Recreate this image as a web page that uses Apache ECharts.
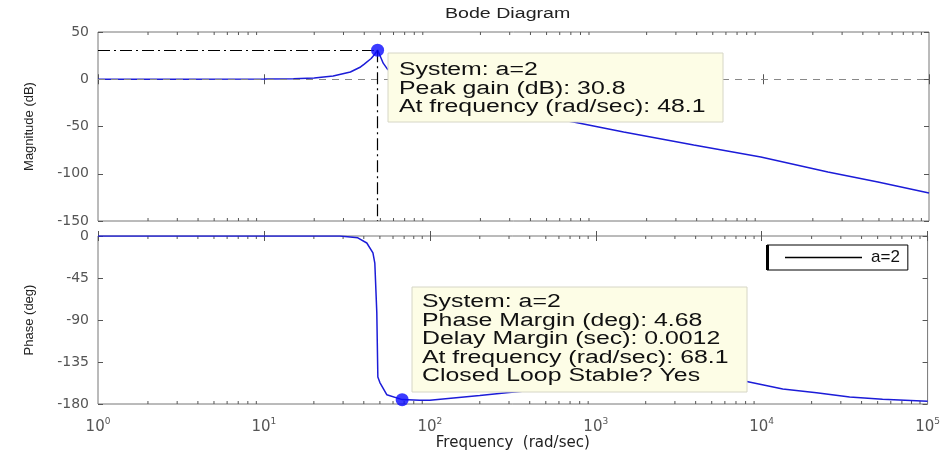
<!DOCTYPE html>
<html>
<head>
<meta charset="utf-8">
<script src="https://cdn.jsdelivr.net/npm/echarts@6/dist/echarts.min.js"></script>
<style>
  html, body { margin: 0; padding: 0; background: #fff; }
  #chart { width: 943px; height: 453px; }
</style>
</head>
<body>
<div id="chart"></div>
<script>
// magnitude curve (rad/sec -> dB)
const freqMag = [1, 3, 10, 15, 20, 26, 33, 38, 40, 44, 46.5, 48.1, 50, 52, 55, 60, 68.1, 100, 200, 400, 726, 1455, 3840, 9730, 24650, 49300, 100000]
const magDb = [0, 0, 0.3, 0.6, 1.4, 3.5, 7.7, 13, 16, 22, 27, 30.8, 24, 17, 11, 5, 0, -11, -24, -37, -45.2, -55.8, -69.6, -82.3, -98.1, -108.7, -120.4]

// phase curve (rad/sec -> deg)
const freqPhase = [1, 10, 28.7, 36.8, 41.7, 45.4, 46.6, 47.9, 48.6, 50, 55, 68.1, 87, 100, 200, 290, 500, 1000, 2000, 3500, 6000, 8128, 13400, 21400, 33900, 53500, 100000]
const phaseDeg = [0, 0, 0, -2, -7.5, -18, -29, -82, -151, -157, -170, -175.3, -176, -176, -171, -168, -164, -160, -157, -155, -155, -156, -164, -168, -172.5, -175, -177]

const peakPoint = [48.1, 30.8]      // peak gain marker
const marginPoint = [68.1, -175.32] // phase margin marker

const seriesName = 'a=2'
const peakNote = ['System: a=2', 'Peak gain (dB): ' + peakPoint[1], 'At frequency (rad/sec): ' + peakPoint[0]]
const marginNote = ['System: a=2', 'Phase Margin (deg): 4.68', 'Delay Margin (sec): 0.0012', 'At frequency (rad/sec): 68.1', 'Closed Loop Stable? Yes']

// minor log ticks 2..9 per decade
const minorFreqs = []
for (let d = 0; d < 5; d++) {
    for (let k = 2; k <= 9; k++) minorFreqs.push(k * Math.pow(10, d))
}

const blue = '#1c1cd8'
const tickColor = '#555'
const font = 'DejaVu Sans'

function zip(a, b) { return a.map((v, i) => [v, b[i]]) }

function minorTickSeries(xIdx, yIdx, yMin, yMax) {
    return {
        type: 'custom', xAxisIndex: xIdx, yAxisIndex: yIdx, silent: true, z: 3,
        data: minorFreqs.map(f => [f, yMin]),
        renderItem: function (params, api) {
            const p0 = api.coord([api.value(0), yMin])
            const p1 = api.coord([api.value(0), yMax])
            const st = { stroke: tickColor, lineWidth: 1 }
            return {
                type: 'group', children: [
                    { type: 'line', shape: { x1: p0[0], y1: p0[1], x2: p0[0], y2: p0[1] - 3 }, style: st },
                    { type: 'line', shape: { x1: p1[0], y1: p1[1], x2: p1[0], y2: p1[1] + 3 }, style: st }
                ]
            }
        }
    }
}

function xAx(grid, pos, showLabel) {
    return {
        type: 'log', logBase: 10, gridIndex: grid, position: pos, min: 1, max: 100000,
        axisLine: { show: false },
        axisTick: { show: true, inside: true, length: 5, lineStyle: { color: tickColor } },
        splitLine: { show: false },
        axisLabel: {
            show: showLabel, margin: 13,
            formatter: v => '{b|10}{s|' + Math.round(Math.log10(v)) + '}',
            rich: {
                b: { fontSize: 15, fontFamily: font, color: '#555' },
                s: { fontSize: 9, fontFamily: font, color: '#555', padding: [0, 0, 11, 0] }
            }
        }
    }
}

function yAx(grid, pos, min, max, interval, showLabel, name) {
    return {
        type: 'value', gridIndex: grid, position: pos, min: min, max: max, interval: interval,
        name: name || '', nameLocation: 'middle', nameGap: 62, nameRotate: 90,
        nameTextStyle: { fontSize: 13, fontFamily: 'Liberation Sans', color: '#222' },
        axisLine: { show: false },
        axisTick: { show: true, inside: true, length: 5, lineStyle: { color: tickColor } },
        splitLine: { show: false },
        axisLabel: { show: showLabel, margin: 9, fontSize: 14, fontFamily: font, color: '#555' }
    }
}

const chart = echarts.init(document.getElementById('chart'))

const option = {
    animation: false,
    backgroundColor: '#fff',
    grid: [
        { left: 98, right: 14, top: 32, height: 189, show: true, borderColor: '#777', borderWidth: 1 },
        { left: 98, right: 14, top: 236, height: 168, show: true, borderColor: '#777', borderWidth: 1 }
    ],
    xAxis: [
        xAx(0, 'bottom', false),
        xAx(0, 'top', false),
        Object.assign(xAx(1, 'bottom', true), {
            name: 'Frequency  (rad/sec)', nameLocation: 'middle', nameGap: 31,
            nameTextStyle: { fontSize: 15, fontFamily: font, color: '#222' }
        }),
        xAx(1, 'top', false)
    ],
    yAxis: [
        yAx(0, 'left', -150, 50, 50, true, 'Magnitude (dB)'),
        yAx(0, 'right', -150, 50, 50, false),
        yAx(1, 'left', -180, 0, 45, true, 'Phase (deg)'),
        yAx(1, 'right', -180, 0, 45, false)
    ],
    legend: {
        data: [{ name: seriesName, icon: 'rect', itemStyle: { color: '#000' } }],
        left: 767, top: 245, itemWidth: 77, itemHeight: 1.5,
        padding: [4, 8, 4, 18], backgroundColor: '#fff', borderColor: '#000', borderWidth: 1,
        borderRadius: 0,
        textStyle: { fontSize: 17, fontFamily: 'Liberation Sans', color: '#111', padding: [0, 0, 0, 4] }
    },
    series: [
        {
            name: seriesName, type: 'line', xAxisIndex: 0, yAxisIndex: 0,
            data: zip(freqMag, magDb), symbol: 'none', smooth: false,
            lineStyle: { color: blue, width: 1.5 }, itemStyle: { color: blue },
            markLine: {
                silent: true, symbol: ['none', 'none'], label: { show: false },
                data: [
                    [{ coord: [1, 0], lineStyle: { color: '#888', type: [7, 6], width: 1 } }, { coord: [100000, 0] }],
                    [{ coord: [1, peakPoint[1]], lineStyle: { color: '#000', type: [12, 4, 2, 4], width: 1.2 } }, { coord: peakPoint }],
                    [{ coord: peakPoint, lineStyle: { color: '#000', type: [12, 4, 2, 4], width: 1.2 } }, { coord: [peakPoint[0], -150] }]
                ]
            }
        },
        {
            name: seriesName, type: 'line', xAxisIndex: 2, yAxisIndex: 2,
            data: zip(freqPhase, phaseDeg), symbol: 'none',
            lineStyle: { color: blue, width: 1.5 }, itemStyle: { color: blue }
        },
        {
            name: 'peak', type: 'scatter', xAxisIndex: 0, yAxisIndex: 0, z: 5,
            data: [peakPoint], symbolSize: 13, itemStyle: { color: '#0a0aff' }
        },
        {
            name: 'margin', type: 'scatter', xAxisIndex: 2, yAxisIndex: 2, z: 5,
            data: [marginPoint], symbolSize: 13, itemStyle: { color: '#0a0aff' }
        },
        minorTickSeries(0, 0, -150, 50),
        minorTickSeries(2, 2, -180, 0)
    ],
    graphic: [
        {
            type: 'text', x: 445, y: 7, scaleX: 1.4, z: 100,
            style: { text: 'Bode Diagram', fontSize: 14, fontFamily: 'Liberation Sans', fill: '#222' }
        },
        {
            type: 'group', x: 388, y: 53, z: 100,
            children: [
                { type: 'rect', z: 100, shape: { x: 0, y: 0, width: 335, height: 69 }, style: { fill: '#fdfde6', stroke: '#d6d6c6', lineWidth: 1 } },
                { type: 'text', z: 101, x: 11, y: 8, scaleX: 1.38, style: { text: peakNote.join('\n'), fontSize: 18, lineHeight: 18.5, fontFamily: 'Liberation Sans', fill: '#111' } }
            ]
        },
        {
            type: 'group', x: 412, y: 287, z: 100,
            children: [
                { type: 'rect', z: 100, shape: { x: 0, y: 0, width: 335, height: 105 }, style: { fill: '#fdfde6', stroke: '#d6d6c6', lineWidth: 1 } },
                { type: 'text', z: 101, x: 10, y: 6, scaleX: 1.38, style: { text: marginNote.join('\n'), fontSize: 18, lineHeight: 18.5, fontFamily: 'Liberation Sans', fill: '#111' } }
            ]
        },
        { type: 'rect', z: 100, shape: { x: 766, y: 245, width: 3, height: 25 }, style: { fill: '#000' } }
    ]
}

chart.setOption(option)
window.onresize = function () { chart.resize() }
</script>
</body>
</html>
